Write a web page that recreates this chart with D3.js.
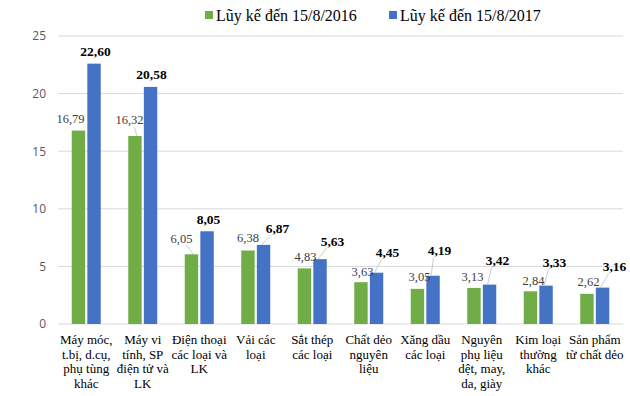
<!DOCTYPE html>
<html lang="vi">
<head>
<meta charset="utf-8">
<title>Lũy kế đến 15/8</title>
<script src="https://cdn.jsdelivr.net/npm/d3@7"></script>
<style>
  body { margin: 0; background: #fff; }
  svg { display: block; }
</style>
</head>
<body>
<svg width="630" height="396"></svg>
<script>
// data
var categories = [
  ["Máy móc,", "t.bị, d.cụ,", "phụ tùng", "khác"],
  ["Máy vi", "tính, SP", "điện tử và", "LK"],
  ["Điện thoại", "các loại và", "LK"],
  ["Vải các", "loại"],
  ["Sắt thép", "các loại"],
  ["Chất dẻo", "nguyên", "liệu"],
  ["Xăng dầu", "các loại"],
  ["Nguyên", "phụ liệu", "dệt, may,", "da, giày"],
  ["Kim loại", "thường", "khác"],
  ["Sản phẩm", "từ chất dẻo"]
];
var seriesNames = ["Lũy kế đến 15/8/2016", "Lũy kế đến 15/8/2017"];
var values2016 = [16.79, 16.32, 6.05, 6.38, 4.83, 3.63, 3.05, 3.13, 2.84, 2.62];
var values2017 = [22.60, 20.58, 8.05, 6.87, 5.63, 4.45, 4.19, 3.42, 3.33, 3.16];
var yTicks = [0, 5, 10, 15, 20, 25];

// label nudges (px from bar centre / bar top), like the hand-moved labels
var labelDx2016 = [-8, -5.5, -10, 0, 1, 1.5, 2, -1.5, 3, 1.5];
var labelDy2016 = [-12, -16, -16, -12.5, -11.5, -11, -12, -11, -11, -12];
var labelDx2017 = [1.5, 1, 1.5, 14, 12.5, 11, 6.5, 8, 8.5, 12];
var labelDy2017 = [-12, -13, -12, -17, -18, -20, -25, -24, -23, -21];

var colors = ["#70ad47", "#4472c4"];

var margin = {top: 36, right: 7, bottom: 72, left: 58},
    width = 630 - margin.left - margin.right,
    height = 396 - margin.top - margin.bottom;

var x = d3.scaleBand()
    .domain(d3.range(categories.length))
    .range([0, width]);

var xs = d3.scaleBand()
    .domain([0, 1])
    .range([x.bandwidth() / 2 - 14.5, x.bandwidth() / 2 + 14.5])
    .paddingInner(0.14);

var y = d3.scaleLinear()
    .domain([0, 25])
    .range([height, 0]);

var svg = d3.select("svg")
  .append("g")
    .attr("transform", "translate(" + margin.left + "," + margin.top + ")");

// gridlines
svg.selectAll(".grid")
    .data(yTicks)
  .enter().append("line")
    .attr("x1", 0)
    .attr("x2", width)
    .attr("y1", function(d) { return y(d); })
    .attr("y2", function(d) { return y(d); })
    .attr("stroke", "#d9d9d9")
    .attr("stroke-width", 1);

// y axis
var yAxis = d3.axisLeft(y).tickValues(yTicks).tickSize(0).tickPadding(12);
var ya = svg.append("g").call(yAxis);
ya.select(".domain").remove();
ya.selectAll("text")
    .attr("fill", "#595959")
    .style("font-family", "'Open Sans', 'Liberation Sans', sans-serif")
    .style("font-size", "12px");

// bars
var series = [values2016, values2017];
var groups = svg.selectAll(".grp")
    .data(categories)
  .enter().append("g")
    .attr("transform", function(d, i) { return "translate(" + x(i) + ",0)"; });

groups.selectAll("rect")
    .data(function(d, i) { return [0, 1].map(function(s) { return {s: s, v: series[s][i], i: i}; }); })
  .enter().append("rect")
    .attr("x", function(d) { return xs(d.s); })
    .attr("width", xs.bandwidth())
    .attr("y", function(d) { return y(d.v); })
    .attr("height", function(d) { return height - y(d.v); })
    .attr("fill", function(d) { return colors[d.s]; });

// data labels
var fmt = function(v) { return v.toFixed(2).replace(".", ","); };
groups.each(function(c, i) {
  var g = d3.select(this);
  [0, 1].forEach(function(s) {
    var v = series[s][i];
    var bx = xs(s) + xs.bandwidth() / 2;
    var by = y(v);
    var dx = s === 0 ? labelDx2016[i] : labelDx2017[i];
    var dy = s === 0 ? labelDy2016[i] : labelDy2017[i];
    var lx = bx + dx, ly = by + dy;
    if (dy < -14) {
      g.append("line")
        .attr("x1", lx + (dx > 0 ? -6 : 5))
        .attr("y1", ly + 7)
        .attr("x2", bx + (dx > 0 ? -2 : 2))
        .attr("y2", by)
        .attr("stroke", "#bfbfbf")
        .attr("stroke-width", 0.8);
    }
    g.append("text")
      .attr("x", lx)
      .attr("y", ly)
      .attr("dy", "0.35em")
      .attr("text-anchor", "middle")
      .attr("fill", s === 0 ? "#404040" : "#000")
      .style("font-family", "'Liberation Serif', 'Times New Roman', serif")
      .style("font-size", s === 0 ? "12.5px" : "13.5px")
      .style("font-weight", s === 0 ? "normal" : "bold")
      .text(fmt(v));
  });
});

// category labels
groups.append("text")
    .attr("x", x.bandwidth() / 2)
    .attr("y", height + 20)
    .attr("text-anchor", "middle")
    .attr("fill", "#000")
    .style("font-family", "'Liberation Serif', 'Times New Roman', serif")
    .style("font-size", "13px")
    .each(function(lines) {
      var t = d3.select(this);
      lines.forEach(function(l, k) {
        t.append("tspan")
          .attr("x", x.bandwidth() / 2)
          .attr("dy", k === 0 ? 0 : 14.5)
          .text(l);
      });
    });

// legend
var legend = d3.select("svg").append("g").attr("transform", "translate(205,0)");
var legendX = [0, 184];
seriesNames.forEach(function(n, k) {
  var lg = legend.append("g").attr("transform", "translate(" + legendX[k] + ",0)");
  lg.append("rect")
    .attr("x", 0).attr("y", 11)
    .attr("width", 8).attr("height", 8)
    .attr("fill", colors[k]);
  lg.append("text")
    .attr("x", 11).attr("y", 21)
    .attr("fill", "#000")
    .style("font-family", "'Liberation Serif', 'Times New Roman', serif")
    .style("font-size", "16px")
    .text(n);
});
</script>
</body>
</html>
